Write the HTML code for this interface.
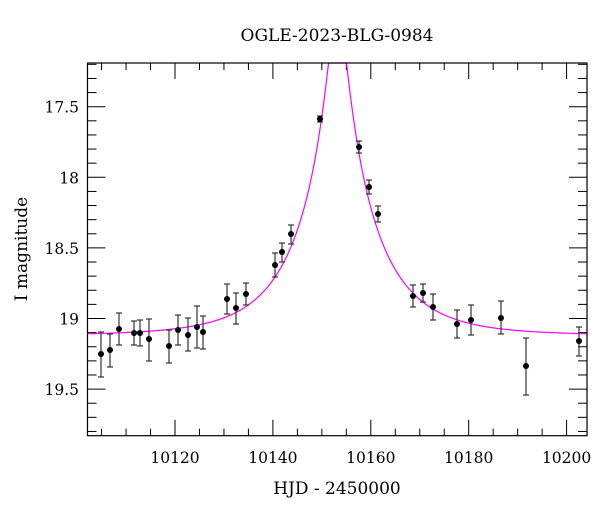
<!DOCTYPE html>
<html><head><meta charset="utf-8"><style>
body{margin:0;background:#fff;}
svg text{font-family:"DejaVu Serif","Liberation Serif",serif;fill:#000;}
</style></head><body>
<svg id="s" width="600" height="512" xmlns="http://www.w3.org/2000/svg">
<text x="337" y="41" font-size="17" text-anchor="middle">OGLE-2023-BLG-0984</text>
<text x="337" y="494" font-size="17" text-anchor="middle">HJD - 2450000</text>
<text transform="translate(27,249) rotate(-90)" font-size="17" text-anchor="middle">I magnitude</text>
<g id="g"></g>
<rect x="87.5" y="63" width="499.5" height="372.7" fill="none" stroke="#000" stroke-width="1.2"/>
</svg>
<script>
var g=document.getElementById('g'),h='';
function X(t){return 175+(t-10120)*4.895;}
function Y(m){return 106.7+(m-17.5)*141.2;}
for(var t=10105;t<=10200;t+=5){var x=X(t),L=(t%20==0)?16:7;
h+='<line x1="'+x+'" y1="435.7" x2="'+x+'" y2="'+(435.7-L)+'" stroke="#000"/>';
h+='<line x1="'+x+'" y1="63" x2="'+x+'" y2="'+(63+L)+'" stroke="#000"/>';
if(t%20==0)h+='<text x="'+x+'" y="463" font-size="15.5" text-anchor="middle">'+t+'</text>';}
for(var i=3;i<=34;i++){var m=16.5+i*0.1,y=Y(m),maj=(i%5==0),L=maj?18:9;
if(y<63||y>435)continue;
h+='<line x1="87.5" y1="'+y+'" x2="'+(87.5+L)+'" y2="'+y+'" stroke="#000"/>';
h+='<line x1="587" y1="'+y+'" x2="'+(587-L)+'" y2="'+y+'" stroke="#000"/>';
if(maj){var s=(Math.round(m*10)/10).toString();h+='<text x="79" y="'+(y+6)+'" font-size="15.5" text-anchor="end">'+s+'</text>';}}
var d='',t0=10153.2,tE=15,u0=0.12,base=19.12;
for(var px=88;px<=587;px+=0.5){var tt=10120+(px-175)/4.895,dt=(tt-t0)/tE,u=Math.sqrt(u0*u0+dt*dt),A=(u*u+2)/(u*Math.sqrt(u*u+4)),mm=base-2.5*Math.log10(A),yy=Y(mm);
if(yy<63)yy=63;d+=(d?'L':'M')+px.toFixed(1)+' '+yy.toFixed(1);}
h+='<path d="'+d+'" fill="none" stroke="#ff00ff" stroke-width="1.2"/>';
var P=[[101,354,332,377],[110,350,334,367],[119,329,313,345],[134,333,321,345],[140,333,320,346],[149,339,319,361],[169,346,330,363],[178,330,315,345],[188,335,318,351],[197,327,306,348],[203,332,316,349],[227,299,284,314],[236,308,293,324],[246,294,283,305],[275,265,253,277],[282,252,243,262],[291,234,225,244],[320,119,116,122],[359,147,141,153],[369,187,180,194],[378,214,206,222],[413,296,285,307],[423,293,284,302],[433,307,294,320],[457,324,310,338],[471,320,305,335],[501,318,301,334],[526,366,338,395],[579,341,327,356]];
P.forEach(function(p){h+='<line x1="'+p[0]+'" y1="'+p[2]+'" x2="'+p[0]+'" y2="'+p[3]+'" stroke="#333" stroke-width="1.2"/>';
h+='<line x1="'+(p[0]-3)+'" y1="'+p[2]+'" x2="'+(p[0]+3)+'" y2="'+p[2]+'" stroke="#333" stroke-width="1.2"/>';
h+='<line x1="'+(p[0]-3)+'" y1="'+p[3]+'" x2="'+(p[0]+3)+'" y2="'+p[3]+'" stroke="#333" stroke-width="1.2"/>';
h+='<circle cx="'+p[0]+'" cy="'+p[1]+'" r="3" fill="#000"/>';});
g.innerHTML=h;
</script>
</body></html>
